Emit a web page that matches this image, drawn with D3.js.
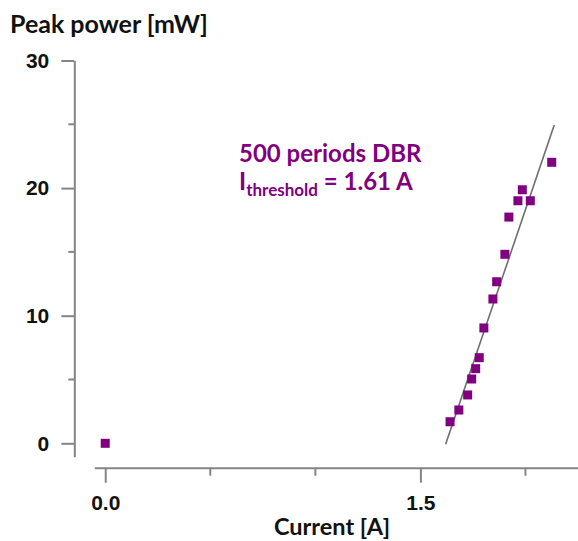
<!DOCTYPE html>
<html>
<head>
<meta charset="utf-8">
<script src="https://cdn.jsdelivr.net/npm/d3@7"></script>
<style>
  html, body { margin: 0; padding: 0; background: #fff; }
  svg { display: block; }
</style>
</head>
<body>
<script>
// ---- data ----
var currentA = [0, 1.641, 1.683, 1.725, 1.744, 1.763, 1.780, 1.802, 1.845, 1.863, 1.902, 1.921, 1.964, 1.985, 2.023, 2.125];
var powerMW  = [0, 1.69, 2.61, 3.79, 5.04, 5.85, 6.71, 9.04, 11.31, 12.66, 14.81, 17.73, 19.01, 19.87, 19.01, 22.02];
// linear fit drawn through the lasing points
var fitX = [1.62, 2.137];
var fitY = [-0.08, 24.94];
var xMajor = [0, 1.5];
var xMinor = [0.5, 1.0, 2.0];
var yMajor = [0, 10, 20, 30];
var yMinor = [5, 15, 25];

var width = 578, height = 541;
var purple = "#800080", axisGrey = "#858585", ink = "#111";
var fontFam = "Lato, 'Open Sans', sans-serif";

var points = currentA.map(function (d, i) { return { x: d, y: powerMW[i] }; });
var fit = fitX.map(function (d, i) { return { x: d, y: fitY[i] }; });

var x = d3.scaleLinear().domain([-0.052, 2.25]).range([94.3, 578]);
var y = d3.scaleLinear().domain([-1.05, 30]).range([456.7, 60.5]);

var svg = d3.select("body").append("svg")
  .attr("width", width)
  .attr("height", height)
  .attr("font-family", fontFam);

//// y axis ////
var yAx = svg.append("g")
  .attr("transform", "translate(74.3,0)")
  .call(d3.axisLeft(y).tickValues(yMajor).tickSize(13).tickSizeOuter(0).tickPadding(12).tickFormat(d3.format("d")));
yAx.append("g")
  .selectAll("line")
  .data(yMinor)
  .join("line")
  .attr("x1", -6).attr("x2", 0)
  .attr("y1", function (d) { return y(d); })
  .attr("y2", function (d) { return y(d); });

//// x axis ////
var xAx = svg.append("g")
  .attr("transform", "translate(0,467.7)")
  .call(d3.axisBottom(x).tickValues(xMajor).tickSize(15).tickSizeOuter(0).tickPadding(12).tickFormat(d3.format(".1f")));
xAx.append("g")
  .selectAll("line")
  .data(xMinor)
  .join("line")
  .attr("x1", function (d) { return x(d); })
  .attr("x2", function (d) { return x(d); })
  .attr("y1", 0).attr("y2", 8);

svg.selectAll(".domain, .tick line, g > g > line")
  .attr("stroke", axisGrey)
  .attr("stroke-width", 2);
svg.selectAll(".tick text")
  .attr("font-size", 21)
  .attr("font-weight", "bold")
  .attr("fill", ink);

//// fit line ////
svg.append("path")
  .datum(fit)
  .attr("fill", "none")
  .attr("stroke", "#6e6e6e")
  .attr("stroke-width", 1.6)
  .attr("d", d3.line().x(function (d) { return x(d.x); }).y(function (d) { return y(d.y); }));

//// squares ////
var sq = 9;
svg.append("g")
  .selectAll("rect")
  .data(points)
  .join("rect")
  .attr("x", function (d) { return x(d.x) - sq / 2; })
  .attr("y", function (d) { return y(d.y) - sq / 2; })
  .attr("width", sq)
  .attr("height", sq)
  .attr("fill", purple);

//// titles ////
svg.append("text")
  .attr("x", 10).attr("y", 33)
  .attr("font-size", 25).attr("font-weight", "bold").attr("fill", ink)
  .text("Peak power [mW]");

svg.append("text")
  .attr("x", 332).attr("y", 535)
  .attr("text-anchor", "middle")
  .attr("font-size", 23.5).attr("font-weight", "bold").attr("fill", ink)
  .text("Current [A]");

//// annotation ////
var note = svg.append("g").attr("fill", purple).attr("font-weight", "bold");
note.append("text")
  .attr("x", 239).attr("y", 162)
  .attr("font-size", 24)
  .text("500 periods DBR");
var l2 = note.append("text")
  .attr("x", 239).attr("y", 190)
  .attr("font-size", 24);
l2.append("tspan").text("I");
l2.append("tspan").attr("font-size", 17).attr("dy", 6).text("threshold");
l2.append("tspan").attr("dy", -6).text(" = 1.61 A");
</script>
</body>
</html>
